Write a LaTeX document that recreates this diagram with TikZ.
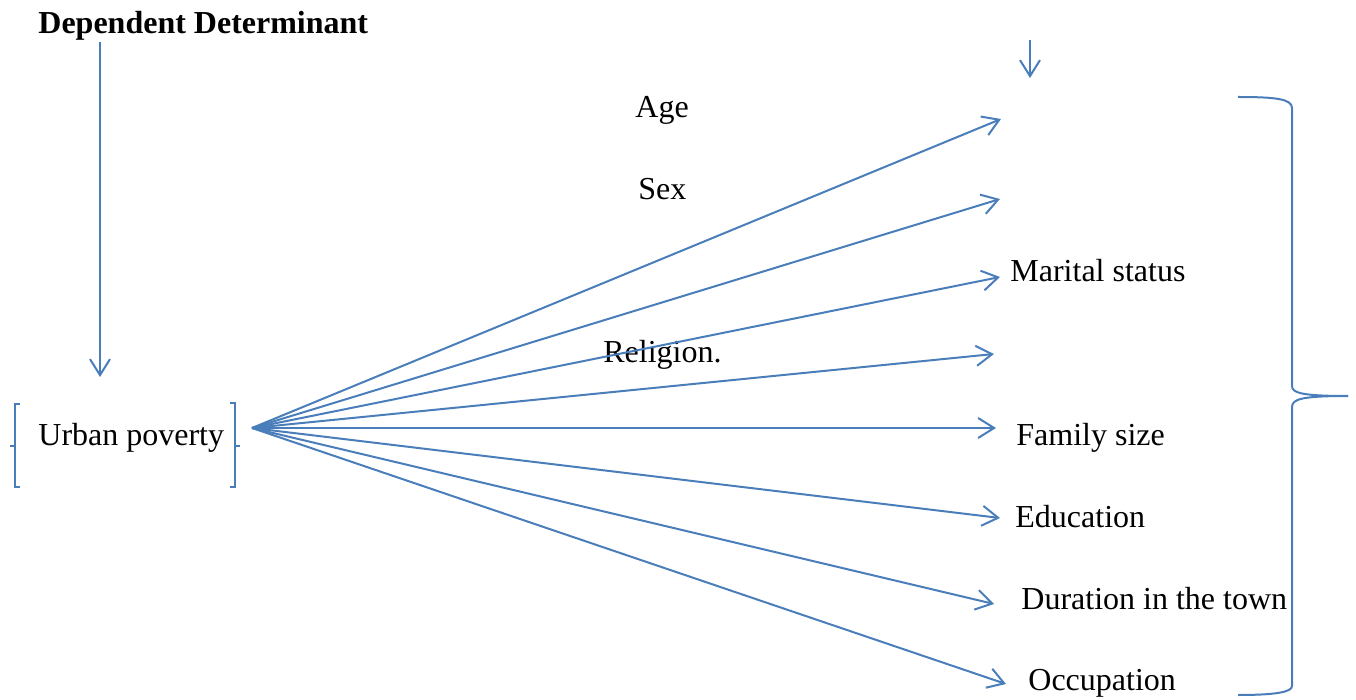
\documentclass[tikz,border=0pt]{standalone}
\usepackage{fontspec}
\setmainfont{Liberation Serif}
\usetikzlibrary{arrows.meta}
\definecolor{arrowblue}{RGB}{74,126,187}

\begin{document}
\begin{tikzpicture}[x=0.5pt,y=-0.5pt,>={Straight Barb[length=8pt,width=10pt]}]
 \tikzstyle{every node}=[inner sep=0pt, anchor=base west, font=\fontsize{16}{19}\selectfont]
 \tikzstyle{link}=[draw=arrowblue, line width=1pt]
 \useasboundingbox (0,0) rectangle (1356,700);
 % labels
 \node 	(dep)		at (38,34)	{\textbf{Dependent Determinant}};
 \node 	(poverty)	at (38,445)	{Urban poverty};
 \node 	(age)		at (635,118)	{Age};
 \node 	(sex)		at (638,200)	{Sex};
 \node 	(religion)	at (603,363)	{Religion.};
 \node 	(marital)	at (1010,282)	{Marital status};
 \node 	(family)	at (1016,445)	{Family size};
 \node 	(education)	at (1015,527)	{Education};
 \node 	(duration)	at (1021,609)	{Duration in the town};
 \node 	(occupation)	at (1028,690)	{Occupation};
 % arrow ends
 \coordinate (fan) at (252,428);
 \coordinate (depTop) at (100,42);
 \coordinate (depEnd) at (100,377);
 \coordinate (indTop) at (1030,40);
 \coordinate (indEnd) at (1030,78);
 \coordinate (tAge) at (1001,119);
 \coordinate (tSex) at (1000,199);
 \coordinate (tMarital) at (1000,277);
 \coordinate (tReligion) at (994,354);
 \coordinate (tFamily) at (996,428);
 \coordinate (tEducation) at (1000,518);
 \coordinate (tDuration) at (994,604);
 \coordinate (tOccupation) at (1006,684);
  \draw[link,->](depTop) to (depEnd);
  \draw[link,->](indTop) to (indEnd);
  \foreach \t in {tAge,tSex,tMarital,tReligion,tFamily,tEducation,tDuration,tOccupation}
   \draw[link,->](fan) to (\t);
 % brackets round the dependent variable
  \draw[link](20,404) -- (15,404) -- (15,487) -- (20,487) (15,446) -- (10,446);
  \draw[link](230,403) -- (235,403) -- (235,487) -- (230,487) (235,446) -- (240,446);
 % brace of the determinants
  \draw[link](1238,97) .. controls (1276,97) and (1292,99) .. (1292,108) -- (1292,386)
   .. controls (1292,393) and (1302,396) .. (1348,396);
  \draw[link](1348,396) .. controls (1302,396) and (1292,399) .. (1292,407) -- (1292,686)
   .. controls (1292,692) and (1276,695) .. (1238,695);
\end{tikzpicture}
\end{document}
